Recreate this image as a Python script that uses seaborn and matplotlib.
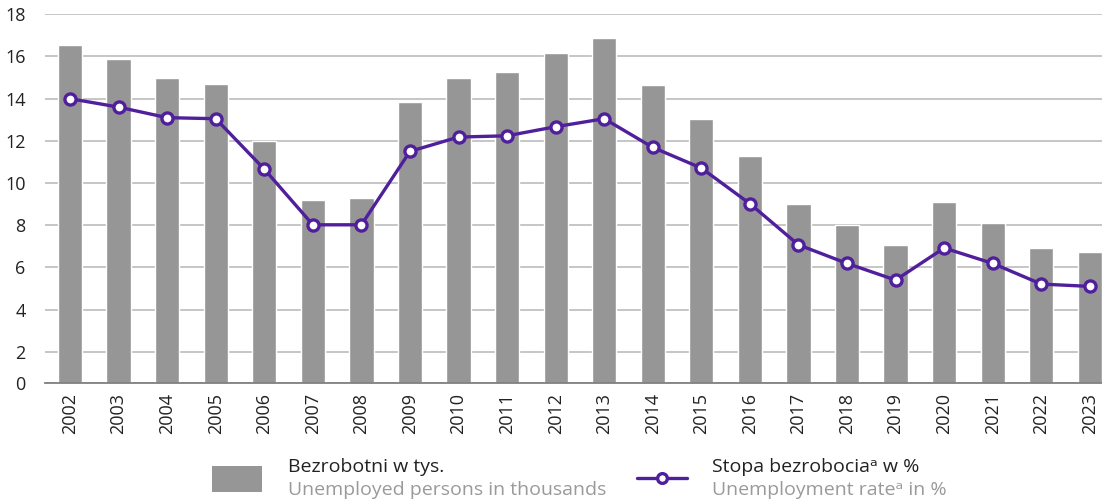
import matplotlib
matplotlib.use("Agg")
import matplotlib.pyplot as plt
import seaborn as sns
from matplotlib.patches import Rectangle
from matplotlib.lines import Line2D

years = [str(y) for y in range(2002, 2024)]
unemployed = [16.55, 15.9, 15.0, 14.7, 12.0, 9.2, 9.3, 13.85, 15.0, 15.27, 16.17, 16.88,
              14.66, 13.04, 11.29, 9.01, 8.0, 7.07, 9.1, 8.12, 6.93, 6.74]
rate = [14.0, 13.6, 13.1, 13.05, 10.66, 8.02, 8.02, 11.5, 12.18, 12.24, 12.67, 13.05,
        11.69, 10.71, 9.02, 7.07, 6.19, 5.4, 6.92, 6.19, 5.21, 5.1]
ytick_labels = ["0", "2", "4", "6", "8", "10", "12", "14", "16", "18"]
legend_bar = ["Bezrobotni w tys.", "Unemployed persons in thousands"]
legend_line = ["Stopa bezrobocia\u1d43 w %", "Unemployment rate\u1d43 in %"]

BAR = "#969696"
PURPLE = "#4f1f9c"
FONT = ["Open Sans", "DejaVu Sans"]

sns.set_theme(style="white")
plt.rcParams["font.family"] = FONT

fig = plt.figure(figsize=(11.02, 5.0), dpi=100)
ax = fig.add_axes([45 / 1102, 1 - 383 / 500, 1 - 45 / 1102, (383 - 14.3) / 500])

sns.barplot(x=years, y=unemployed, color=BAR, width=0.5, saturation=1, ax=ax, zorder=2)
sns.pointplot(x=years, y=rate, color=PURPLE, ax=ax, markers="o", linestyles="-",
              markerfacecolor="white", markeredgecolor=PURPLE, markersize=8,
              markeredgewidth=2.4, linewidth=2.4, zorder=4)

ybottom = 0.52
ax.set_ylim(ybottom, 18)
ax.set_xlim(-0.515, 21.25)
ax.set_yticks([ybottom] + [2, 4, 6, 8, 10, 12, 14, 16, 18])
ax.set_yticklabels(ytick_labels)
ax.yaxis.grid(True, color="#c2c2c2", linewidth=1.3, zorder=0)
ax.set_axisbelow(True)
ax.tick_params(axis="y", length=0, pad=14, labelsize=13, labelcolor="#222222")
ax.tick_params(axis="x", length=0, pad=7, labelsize=13, labelcolor="#222222", rotation=90)
for s in ["top", "right", "left"]:
    ax.spines[s].set_visible(False)
ax.spines["bottom"].set_color("#808080")
ax.spines["bottom"].set_linewidth(1.3)
ax.set_xlabel("")
ax.set_ylabel("")

# Legend (drawn manually for two-line, two-colour labels)
W, H = 1102, 500
LFS = 14
fig.add_artist(Rectangle((212 / W, 1 - 492 / H), 50 / W, 26 / H, transform=fig.transFigure,
                         facecolor=BAR, edgecolor="none"))
fig.text(288 / W, 1 - 467 / H, legend_bar[0], fontsize=LFS, color="#222222", va="center")
fig.text(288 / W, 1 - 490 / H, legend_bar[1], fontsize=LFS, color="#9a9a9a", va="center")
fig.add_artist(Line2D([637 / W, 687 / W], [1 - 478 / H, 1 - 478 / H], transform=fig.transFigure,
                      color=PURPLE, linewidth=2.4))
fig.add_artist(Line2D([662 / W], [1 - 478 / H], transform=fig.transFigure, marker="o",
                      markersize=7, markerfacecolor="white", markeredgecolor=PURPLE,
                      markeredgewidth=2.4, linestyle="none"))
fig.text(712 / W, 1 - 467 / H, legend_line[0], fontsize=LFS, color="#222222", va="center")
fig.text(712 / W, 1 - 490 / H, legend_line[1], fontsize=LFS, color="#9a9a9a", va="center")

fig.savefig("out.png", dpi=100)
